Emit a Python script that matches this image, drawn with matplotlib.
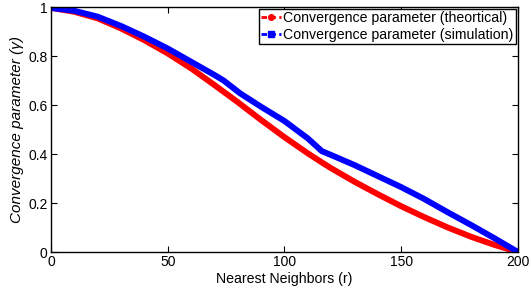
import matplotlib
matplotlib.use("Agg")
import matplotlib.pyplot as plt
from matplotlib.lines import Line2D

plt.rcParams['font.family'] = ['Liberation Sans', 'DejaVu Sans']

# Theoretical convergence parameter
r_theory = [0, 10, 20, 30, 40, 50, 60, 70, 80, 90, 100, 110, 116, 120,
            130, 140, 150, 160, 170, 180, 190, 200]
gamma_theory = [0.997, 0.981, 0.954, 0.913, 0.865, 0.811, 0.75, 0.682, 0.612,
                0.539, 0.469, 0.403, 0.366, 0.342, 0.287, 0.236, 0.187,
                0.142, 0.100, 0.062, 0.029, 0.0]

# Simulated convergence parameter
r_sim = [0, 10, 20, 30, 40, 50, 60, 70, 74, 81, 90, 100, 110, 116, 120,
         130, 140, 150, 160, 170, 180, 190, 200]
gamma_sim = [0.997, 0.985, 0.961, 0.923, 0.879, 0.831, 0.777, 0.723, 0.70,
             0.648, 0.593, 0.535, 0.464, 0.412, 0.396, 0.355, 0.310, 0.265,
             0.216, 0.162, 0.11, 0.056, 0.0]

fig = plt.figure(figsize=(5.29, 2.97), dpi=100)
ax = fig.add_axes([0.0964, 0.1515, 0.8826, 0.8245])

ax.plot(r_theory, gamma_theory, color='red', lw=4.3, solid_joinstyle='round')
ax.plot(r_sim, gamma_sim, color='blue', lw=4.3, solid_joinstyle='round')

ax.set_xlim(0, 200)
ax.set_ylim(0, 1)
ax.set_xticks([0, 50, 100, 150, 200])
ax.set_yticks([0, 0.2, 0.4, 0.6, 0.8, 1])
ax.set_yticklabels(['0', '0.2', '0.4', '0.6', '0.8', '1'])
ax.tick_params(direction='in', top=True, right=True, length=4, width=0.8,
               labelsize=10, pad=2.5)
for s in ax.spines.values():
    s.set_linewidth(1.0)

ax.set_xlabel('Nearest Neighbors (r)', fontsize=10.2, labelpad=2)
ax.set_ylabel('Convergence parameter (γ)', fontsize=11,
              style='italic', labelpad=3)

handles = [
    Line2D([], [], color='red', ls=(0, (2, 1.2)), lw=2, marker='o', markersize=4),
    Line2D([], [], color='blue', ls=(0, (2, 1.2)), lw=2, marker='s', markersize=4),
]
ax.legend(handles, ['Convergence parameter (theortical)',
                    'Convergence parameter (simulation)'],
          loc='upper right', fontsize=10.2, frameon=True, fancybox=False,
          edgecolor='black', framealpha=1, borderpad=0.15, labelspacing=0.2,
          handlelength=1.35, handletextpad=0.2, borderaxespad=0.15)

fig.savefig('out.png', dpi=100)
